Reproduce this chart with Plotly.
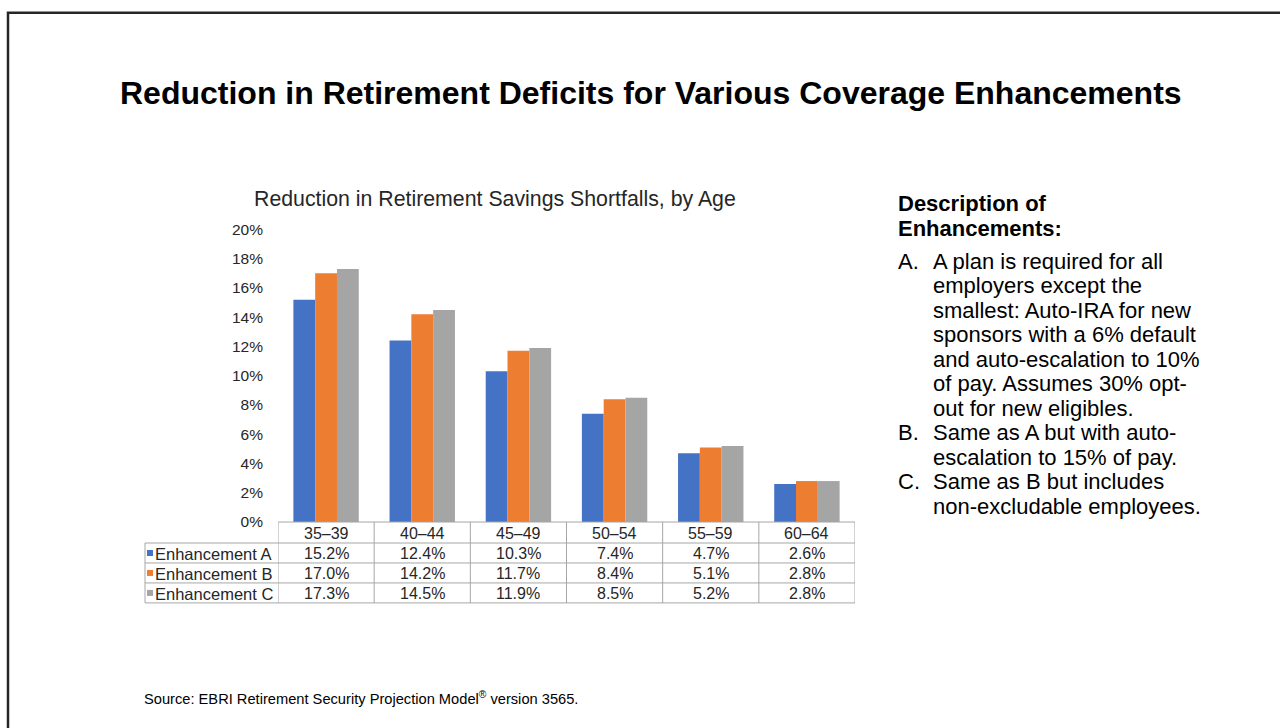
import plotly.graph_objects as go

# ---- data ----
age_groups = ["35–39", "40–44", "45–49", "50–54", "55–59", "60–64"]
series_names = ["Enhancement A", "Enhancement B", "Enhancement C"]
enh_a = [0.152, 0.124, 0.103, 0.074, 0.047, 0.026]
enh_b = [0.170, 0.142, 0.117, 0.084, 0.051, 0.028]
enh_c = [0.173, 0.145, 0.119, 0.085, 0.052, 0.028]
y_ticks = [0.0, 0.02, 0.04, 0.06, 0.08, 0.10, 0.12, 0.14, 0.16, 0.18, 0.20]

main_title = "Reduction in Retirement Deficits for Various Coverage Enhancements"
chart_title = "Reduction in Retirement Savings Shortfalls, by Age"
desc_heading = ["Description of", "Enhancements:"]
desc_labels = ["A.", "B.", "C."]
desc_lines = [
    ["A plan is required for all", "employers except the", "smallest: Auto-IRA for new",
     "sponsors with a 6% default", "and auto-escalation to 10%", "of pay. Assumes 30% opt-",
     "out for new eligibles."],
    ["Same as A but with auto-", "escalation to 15% of pay."],
    ["Same as B but includes", "non-excludable employees."],
]
source_text = "Source: EBRI Retirement Security Projection Model<sup>®</sup> version 3565."

colors = ["#4472C4", "#ED7D31", "#A5A5A5"]
series_values = [enh_a, enh_b, enh_c]

W, H = 1280, 728
FONT = "Liberation Sans, Arial, sans-serif"
TXT = "#262626"

# empirical vertical calibration of the rendered page (layout helper only)
V_OFF, V_SCALE = 8.26, 0.978


def px(x):
    return x / W


def py(y):
    y_set = (y - V_OFF) / V_SCALE
    return 1 - y_set / H


# plot area in (target) pixels
PL, PR, PT, PB = 278, 855, 229, 522

fig = go.Figure()
for name, vals, col in zip(series_names, series_values, colors):
    fig.add_trace(go.Bar(x=age_groups, y=vals, name=name, marker=dict(color=col, line=dict(width=0)),
                         showlegend=False, hoverinfo="x+y+name"))

shapes = []
annotations = []

# outer frame
shapes.append(dict(type="rect", xref="paper", yref="paper", x0=px(8), x1=px(W + 10), y0=py(12), y1=-0.02,
                   line=dict(color="#262626", width=2.5), fillcolor="rgba(0,0,0,0)", layer="below"))

# ---- data table under the chart ----
grid = "#A6A6A6"
row_y = [522, 543, 563, 583, 603]
TL = 145
shapes.append(dict(type="line", xref="x", yref="paper", x0=-0.5, x1=len(age_groups) - 0.5,
                   y0=py(row_y[0]), y1=py(row_y[0]), line=dict(color=grid, width=1)))
for yy in row_y[1:]:
    shapes.append(dict(type="line", xref="paper", yref="paper", x0=px(TL), x1=px(PR),
                       y0=py(yy), y1=py(yy), line=dict(color=grid, width=1)))
shapes.append(dict(type="line", xref="paper", yref="paper", x0=px(TL), x1=px(TL),
                   y0=py(row_y[1]), y1=py(row_y[-1]), line=dict(color=grid, width=1)))
for i in range(len(age_groups) + 1):
    shapes.append(dict(type="line", xref="x", yref="paper", x0=i - 0.5, x1=i - 0.5,
                       y0=py(row_y[0]), y1=py(row_y[-1]), line=dict(color=grid, width=1)))

for cat in age_groups:
    annotations.append(dict(x=cat, y=py((row_y[0] + row_y[1]) / 2 + 1), xref="x", yref="paper", text=cat,
                            showarrow=False, font=dict(family=FONT, size=16, color=TXT),
                            xanchor="center", yanchor="middle"))

for r, (name, vals, col) in enumerate(zip(series_names, series_values, colors)):
    yc = (row_y[r + 1] + row_y[r + 2]) / 2
    shapes.append(dict(type="rect", xref="paper", yref="paper", x0=px(147), x1=px(153),
                       y0=py(yc - 3), y1=py(yc + 3), fillcolor=col, line=dict(width=0)))
    annotations.append(dict(x=px(153), y=py(yc + 1), xref="paper", yref="paper", text=name, showarrow=False,
                            font=dict(family=FONT, size=16.5, color=TXT), xanchor="left", yanchor="middle"))
    for cat, v in zip(age_groups, vals):
        annotations.append(dict(x=cat, y=py(yc + 1), xref="x", yref="paper", text=f"{v * 100:.1f}%",
                                showarrow=False, font=dict(family=FONT, size=16, color=TXT),
                                xanchor="center", yanchor="middle"))

# titles
annotations.append(dict(x=px(651), y=py(92), xref="paper", yref="paper", text=f"<b>{main_title}</b>",
                        showarrow=False, font=dict(family=FONT, size=32, color="#000000"),
                        xanchor="center", yanchor="middle"))
annotations.append(dict(x=px(495), y=py(199), xref="paper", yref="paper", text=chart_title,
                        showarrow=False, font=dict(family=FONT, size=21.3, color=TXT),
                        xanchor="center", yanchor="middle"))

# description block (one annotation per line for tight 90% line spacing)
DESC_SIZE = 22
for k, h in enumerate(desc_heading):
    annotations.append(dict(x=px(896), y=py(203 + 25 * k), xref="paper", yref="paper", text=f"<b>{h}</b>",
                            showarrow=False, font=dict(family=FONT, size=DESC_SIZE, color="#000000"),
                            xanchor="left", yanchor="middle"))
line_h = 24.5
first_y = 261
n = 0
for lab, lines in zip(desc_labels, desc_lines):
    annotations.append(dict(x=px(896), y=py(first_y + n * line_h), xref="paper", yref="paper", text=lab,
                            showarrow=False, font=dict(family=FONT, size=DESC_SIZE, color="#000000"),
                            xanchor="left", yanchor="middle"))
    for ln in lines:
        annotations.append(dict(x=px(931), y=py(first_y + n * line_h), xref="paper", yref="paper", text=ln,
                                showarrow=False, font=dict(family=FONT, size=DESC_SIZE, color="#000000"),
                                xanchor="left", yanchor="middle"))
        n += 1

annotations.append(dict(x=px(142), y=py(698), xref="paper", yref="paper", text=source_text, showarrow=False,
                        font=dict(family=FONT, size=14.67, color="#000000"), xanchor="left", yanchor="middle"))

fig.update_layout(
    width=W, height=H,
    margin=dict(l=0, r=0, t=0, b=0),
    paper_bgcolor="white", plot_bgcolor="white",
    barmode="group", bargap=0.32, bargroupgap=0,
    xaxis=dict(domain=[px(PL), px(PR)], showticklabels=False, showgrid=False, zeroline=False,
               showline=False, ticks="", range=[-0.5, len(age_groups) - 0.5]),
    yaxis=dict(domain=[py(PB), py(PT)], range=[0, 0.2], tickvals=y_ticks, tickformat=".0%",
               showgrid=False, zeroline=False, showline=False, ticks="",
               tickfont=dict(family=FONT, size=15.5, color=TXT), ticklabelstandoff=14),
    shapes=shapes, annotations=annotations,
    font=dict(family=FONT),
)

fig.write_html("out.html", config={"displayModeBar": False},
               post_script="document.body.style.margin='0';document.body.style.overflow='hidden';")
